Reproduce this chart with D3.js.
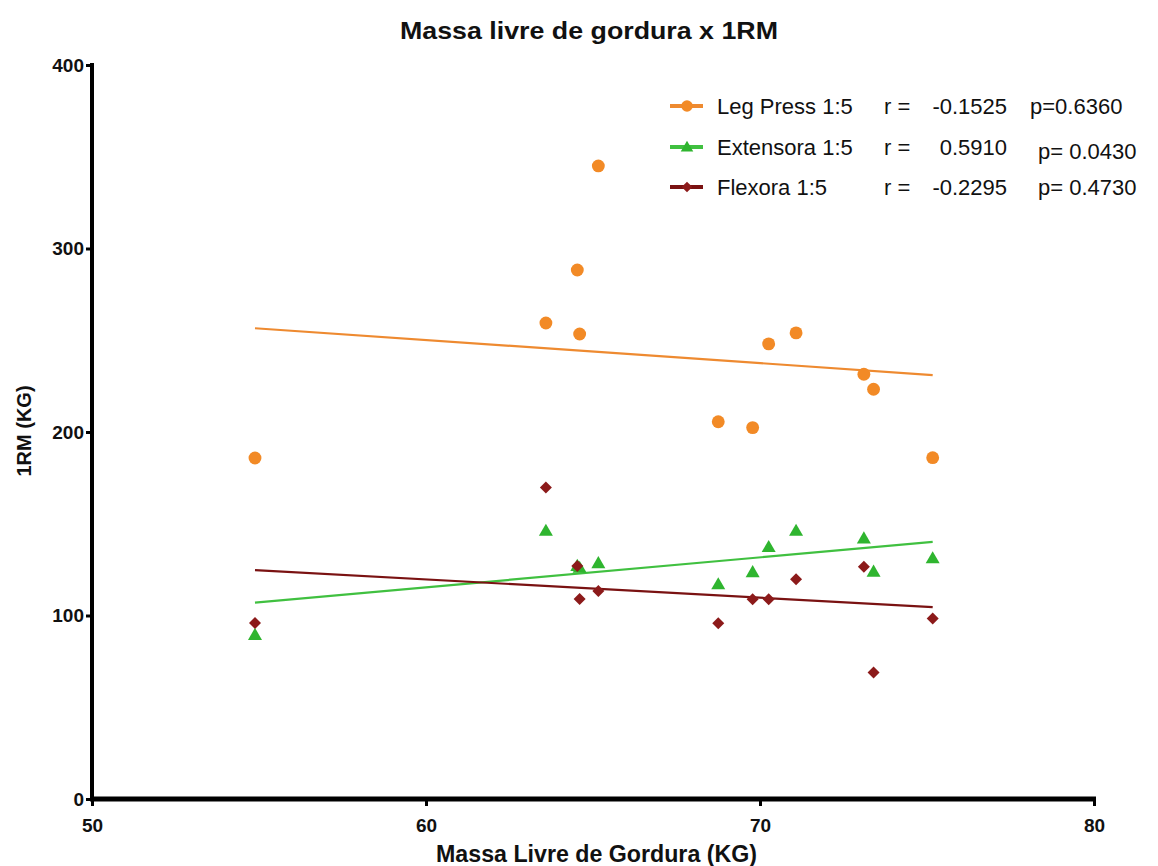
<!DOCTYPE html>
<html><head><meta charset="utf-8">
<script src="https://cdn.jsdelivr.net/npm/d3@7"></script>
<style>body{margin:0;background:#fff}svg{display:block}text{font-family:"Liberation Sans",Arial,sans-serif}</style>
</head><body><svg id="c" width="1158" height="866"></svg>
<script>
const massa = [54.88, 63.59, 64.53, 64.6, 65.16, 68.75, 69.78, 70.26, 71.08, 73.11, 73.4, 75.17];
const legPress = [185.8, 259.4, 288.3, 253.4, 345, 205.6, 202.4, 248, 254, 231.5, 223.3, 186];
const extensora = [89.4, 146.2, 127, 126, 128.5, 117, 123.6, 137.3, 146.2, 142, 123.9, 131.2];
const flexora = [95.9, 169.7, 127, 109, 113.4, 95.8, 108.8, 108.8, 119.8, 126.6, 69, 98.3];
const xTicks = [50, 60, 70, 80];
const yTicks = [0, 100, 200, 300, 400];
const seriesNames = ["Leg Press 1:5", "Extensora 1:5", "Flexora 1:5"];
const rValues = ["-0.1525", "0.5910", "-0.2295"];
const pTexts = ["p=0.6360", "p= 0.0430", "p= 0.4730"];
const colors = ["#f28a26", "#2fb52f", "#8c1a1a"];
const lineColors = ["#ee8a30", "#40c040", "#7a1212"];

const svg = d3.select("#c");
const x = d3.scaleLinear().domain([50, 80]).range([92, 1094]);
const y = d3.scaleLinear().domain([0, 400]).range([799, 65]);

const series = [legPress, extensora, flexora];

function regress(xs, ys) {
  const mx = d3.mean(xs), my = d3.mean(ys);
  let sxy = 0, sxx = 0;
  xs.forEach((v, i) => { sxy += (v - mx) * (ys[i] - my); sxx += (v - mx) ** 2; });
  const b = sxy / sxx;
  return [b, my - b * mx];
}
const xmin = d3.min(massa), xmax = d3.max(massa);
series.forEach((s, i) => {
  const [b, a] = regress(massa, s);
  svg.append("line")
    .attr("x1", x(xmin)).attr("y1", y(a + b * xmin))
    .attr("x2", x(xmax)).attr("y2", y(a + b * xmax))
    .attr("stroke", lineColors[i]).attr("stroke-width", 2.2);
});

function markerPath(i, scale) {
  if (i === 0) return d3.symbol().type(d3.symbolCircle).size(130 * scale)();
  if (i === 1) return d3.symbol().type(d3.symbolTriangle).size(85 * scale)();
  return d3.symbol().type(d3.symbolSquare).size(72 * scale)();
}
series.forEach((s, i) => {
  svg.append("g").selectAll("path").data(s).join("path")
    .attr("transform", (d, j) => `translate(${x(massa[j])},${y(d) + (i === 1 ? 1 : 0)})` + (i === 2 ? " rotate(45)" : ""))
    .attr("d", markerPath(i, 1))
    .attr("fill", colors[i]);
});

// axes
const xAxis = svg.append("g").attr("transform", "translate(0,799)")
  .call(d3.axisBottom(x).tickValues(xTicks).tickSize(7).tickFormat(d3.format("d")));
const yAxis = svg.append("g").attr("transform", "translate(92,0)")
  .call(d3.axisLeft(y).tickValues(yTicks).tickSize(6).tickFormat(d3.format("d")));
xAxis.select(".domain").attr("d", "M90,0H1096").attr("stroke", "#000").attr("stroke-width", 5);
yAxis.select(".domain").attr("d", "M0,63V801").attr("stroke", "#000").attr("stroke-width", 4);
xAxis.selectAll(".tick line").attr("stroke-width", 3);
yAxis.selectAll(".tick line").attr("stroke-width", 3);
xAxis.selectAll(".tick text").attr("font-size", 19).attr("font-weight", "bold").attr("fill", "#111")
  .attr("y", 33).attr("dy", "0");
yAxis.selectAll(".tick text").attr("font-size", 19).attr("font-weight", "bold").attr("fill", "#111").attr("x", -8);

// titles
svg.append("text").attr("x", 400).attr("y", 39)
  .attr("font-size", 24).attr("font-weight", "bold").attr("fill", "#111")
  .attr("textLength", 378).attr("lengthAdjust", "spacingAndGlyphs")
  .text("Massa livre de gordura x 1RM");
svg.append("text").attr("x", 436).attr("y", 862)
  .attr("font-size", 23).attr("font-weight", "bold").attr("fill", "#111")
  .attr("textLength", 321).attr("lengthAdjust", "spacingAndGlyphs")
  .text("Massa Livre de Gordura  (KG)");
svg.append("text").attr("transform", "translate(31,431) rotate(-90)").attr("text-anchor", "middle")
  .attr("font-size", 20).attr("font-weight", "bold").attr("fill", "#111")
  .text("1RM (KG)");

// legend
const rowsY = [106, 147, 187];
const pX = [1030, 1038, 1038];
seriesNames.forEach((n, i) => {
  const g = svg.append("g").attr("transform", `translate(0,${rowsY[i]})`);
  g.append("line").attr("x1", 670).attr("x2", 703).attr("stroke", lineColors[i]).attr("stroke-width", 4);
  g.append("path").attr("transform", `translate(687,${i === 1 ? 1 : 0})` + (i === 2 ? " rotate(45)" : ""))
    .attr("d", markerPath(i, 0.8)).attr("fill", colors[i]);
  g.append("text").attr("x", 717).attr("y", 8).attr("font-size", 22).attr("fill", "#111").text(n);
  g.append("text").attr("x", 884).attr("y", 8).attr("font-size", 22).attr("fill", "#111").text("r =");
  g.append("text").attr("x", 1007).attr("y", 8).attr("text-anchor", "end").attr("font-size", 22).attr("fill", "#111").text(rValues[i]);
  g.append("text").attr("x", pX[i]).attr("y", 8 + (i === 1 ? 4 : 0)).attr("font-size", 22).attr("fill", "#111")
    .style("white-space", "pre").text(pTexts[i]);
});
</script></body></html>
